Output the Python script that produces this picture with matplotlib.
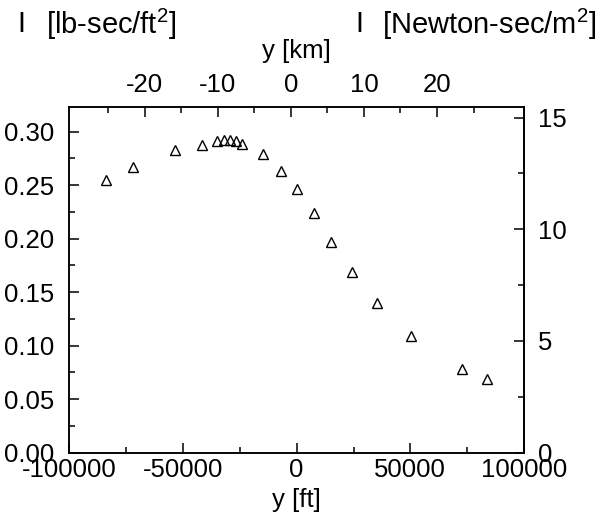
import matplotlib
matplotlib.use("Agg")
import matplotlib.pyplot as plt
from matplotlib.ticker import MultipleLocator, FixedLocator, FormatStrFormatter

plt.rcParams['font.family'] = ['Liberation Sans', 'DejaVu Sans']
plt.rcParams['mathtext.fontset'] = 'custom'
plt.rcParams['mathtext.rm'] = 'Liberation Sans'
plt.rcParams['axes.unicode_minus'] = False

# altitude [ft] and I [lb-sec/ft^2]
y_ft = [-83700, -72200, -53500, -41700, -34900, -32000, -29200, -26700, -24000,
        -14900, -6900, 200, 7500, 15200, 24300, 35300, 50200, 72600, 83900]
I_lb = [0.2545, 0.2669, 0.2831, 0.2872, 0.2916, 0.2925, 0.2925, 0.2909, 0.2884,
        0.2791, 0.2637, 0.2461, 0.2238, 0.1972, 0.1690, 0.1394, 0.1085, 0.0785, 0.0691]

km_ticks = [-20, -10, 0, 10, 20]
km_minor = [-25, -15, -5, 5, 15, 25]

LB2SI = 47.88     # lb-sec/ft^2 -> N-sec/m^2
FS = 18.5

fig = plt.figure(figsize=(6.02, 5.14), dpi=100)
ax = fig.add_axes([0.1151, 0.1196, 0.7554, 0.6722])

ax.plot(y_ft, I_lb, linestyle='none', marker='^', markersize=6.5,
        markerfacecolor='none', markeredgecolor='black', markeredgewidth=1.0)

ax.set_xlim(-100000, 100000)
ax.set_ylim(0, 0.3231)
ax.xaxis.set_major_locator(MultipleLocator(50000))
ax.xaxis.set_minor_locator(MultipleLocator(25000))
ax.yaxis.set_major_locator(MultipleLocator(0.05))
ax.yaxis.set_minor_locator(MultipleLocator(0.025))
ax.yaxis.set_major_formatter(FormatStrFormatter('%.2f'))
ax.tick_params(which='both', direction='in', top=False, right=False,
               labelsize=FS, width=1.1)
ax.tick_params(which='major', length=7)
ax.tick_params(which='minor', length=4)
ax.tick_params(axis='x', which='major', pad=4)
ax.tick_params(axis='y', which='major', pad=11)
for s in ax.spines.values():
    s.set_linewidth(1.1)
ax.set_xlabel('y [ft]', fontsize=FS, labelpad=4)

# right axis in SI units
ax2 = ax.secondary_yaxis('right', functions=(lambda v: v * LB2SI, lambda v: v / LB2SI))
ax2.yaxis.set_major_locator(MultipleLocator(5))
ax2.yaxis.set_minor_locator(MultipleLocator(2.5))
ax2.tick_params(which='both', direction='in', labelsize=FS, width=1.1)
ax2.tick_params(which='major', length=7, pad=10)
ax2.tick_params(which='minor', length=4)
ax2.spines['right'].set_linewidth(1.1)

# top axis in km
ax3 = ax.twiny()
ax3.set_xlim(-30.3, 31.9)
ax3.xaxis.set_major_locator(FixedLocator(km_ticks))
ax3.xaxis.set_minor_locator(FixedLocator(km_minor))
ax3.tick_params(which='both', direction='in', labelsize=FS, width=1.1,
                bottom=False, top=True)
ax3.tick_params(which='major', length=7, pad=7)
ax3.tick_params(which='minor', length=4)
for s in ax3.spines.values():
    s.set_linewidth(1.1)
ax3.set_xlabel('y [km]', fontsize=FS, labelpad=11)

fig.text(17 / 602, 1 - 24 / 514, 'I', fontsize=21, ha='left', va='center')
fig.text(46 / 602, 1 - 24 / 514, r'[lb-sec/ft$^2$]', fontsize=21, ha='left', va='center')
fig.text(355 / 602, 1 - 24 / 514, 'I', fontsize=21, ha='left', va='center')
fig.text(597 / 602, 1 - 24 / 514, r'[Newton-sec/m$^2$]', fontsize=21, ha='right', va='center')

fig.savefig('out.png', dpi=100)
